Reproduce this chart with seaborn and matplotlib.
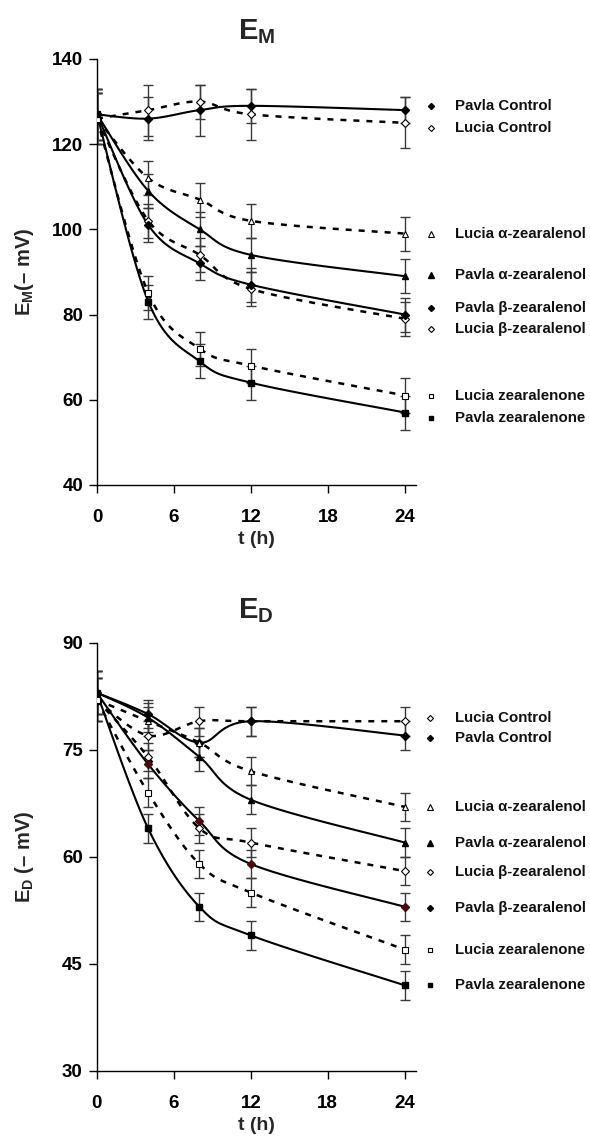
import numpy as np
import pandas as pd
import matplotlib
matplotlib.use("Agg")
import matplotlib.pyplot as plt
import seaborn as sns

# ---------------- data ----------------
t = [0, 4, 8, 12, 24]
x_ticks = [0, 6, 12, 18, 24]

# E_M panel (-mV)
em_pavla_control = [127, 126, 128, 129, 128]
em_lucia_control = [126, 128, 130, 127, 125]
em_lucia_alpha = [126, 112, 107, 102, 99]
em_pavla_alpha = [127, 109, 100, 94, 89]
em_pavla_beta = [127, 101, 92, 87, 80]
em_lucia_beta = [126, 102, 94, 86, 79]
em_lucia_zea = [126, 85, 72, 68, 61]
em_pavla_zea = [127, 83, 69, 64, 57]

em_err_pavla_control = [6, 5, 6, 4, 3]
em_err_lucia_control = [6, 6, 4, 6, 6]
em_err_other = [6, 4, 4, 4, 4]
em_y_ticks = [40, 60, 80, 100, 120, 140]

# E_D panel (-mV)
ed_lucia_control = [82, 77, 79, 79, 79]
ed_pavla_control = [83, 80, 76, 79, 77]
ed_lucia_alpha = [82, 79, 76, 72, 67]
ed_pavla_alpha = [83, 79.5, 74, 68, 62]
ed_lucia_beta = [82, 74, 64, 62, 58]
ed_pavla_beta = [83, 73, 65, 59, 53]
ed_lucia_zea = [82, 69, 59, 55, 47]
ed_pavla_zea = [83, 64, 53, 49, 42]

ed_err = [3, 2, 2, 2, 2]
ed_y_ticks = [30, 45, 60, 75, 90]

lbl_pc = "Pavla Control"
lbl_lc = "Lucia Control"
lbl_la = "Lucia α-zearalenol"
lbl_pa = "Pavla α-zearalenol"
lbl_pb = "Pavla β-zearalenol"
lbl_lb = "Lucia β-zearalenol"
lbl_lz = "Lucia zearalenone"
lbl_pz = "Pavla zearalenone"

# legend label heights (layout, data units)
em_legend_y = [129, 123.8, 98.9, 89.3, 81.5, 76.6, 60.9, 55.7]
ed_legend_y = [79.4, 76.6, 67.0, 61.9, 57.9, 52.9, 47.0, 42.1]

# ---------------- style ----------------
sns.set_style("ticks")
plt.rcParams["font.family"] = ["Liberation Sans", "DejaVu Sans"]
plt.rcParams["mathtext.fontset"] = "custom"
plt.rcParams["mathtext.rm"] = "Liberation Sans"
plt.rcParams["mathtext.bf"] = "Liberation Sans:bold"
plt.rcParams["mathtext.it"] = "Liberation Sans:italic"
plt.rcParams["axes.edgecolor"] = "black"
plt.rcParams["xtick.color"] = "black"
plt.rcParams["ytick.color"] = "black"

MARK = {
    "fd": dict(marker="D", mfc="black", mec="black", ms=3.6),
    "od": dict(marker="D", mfc="white", mec="black", ms=3.6, mew=0.8),
    "ft": dict(marker="^", mfc="black", mec="black", ms=5),
    "ot": dict(marker="^", mfc="white", mec="black", ms=5, mew=0.8),
    "fs": dict(marker="s", mfc="black", mec="black", ms=4.2),
    "os": dict(marker="s", mfc="white", mec="black", ms=4.2, mew=0.8),
}


def smooth(x, y, n=25):
    P = np.column_stack([x, y]).astype(float)
    out = []
    for i in range(len(P) - 1):
        p0 = P[i - 1] if i > 0 else P[i]
        p1, p2 = P[i], P[i + 1]
        p3 = P[i + 2] if i + 2 < len(P) else P[i + 1]
        c1 = p1 + (p2 - p0) / 6.0
        c2 = p2 - (p3 - p1) / 6.0
        s = np.linspace(0, 1, n)[:, None]
        seg = (1 - s) ** 3 * p1 + 3 * (1 - s) ** 2 * s * c1 + 3 * (1 - s) * s ** 2 * c2 + s ** 3 * p2
        out.append(seg if i == 0 else seg[1:])
    return np.vstack(out)


def draw_series(ax, y, err, solid, mk, mcolor=None):
    pts = smooth(t, y)
    df = pd.DataFrame({"t": pts[:, 0], "v": pts[:, 1]})
    if solid:
        sns.lineplot(data=df, x="t", y="v", ax=ax, sort=False, estimator=None,
                     color="black", linewidth=1.5, linestyle="-", zorder=3)
    else:
        sns.lineplot(data=df, x="t", y="v", ax=ax, sort=False, estimator=None,
                     color="black", linewidth=1.8, linestyle=(0, (2.4, 2.8)), zorder=3)
    ax.errorbar(t, y, yerr=err, fmt="none", ecolor="#3a3a3a", elinewidth=1.0,
                capsize=3.5, capthick=1.0, zorder=2)
    style = dict(MARK[mk])
    if mcolor is not None:
        style["mfc"] = mcolor
        style["mec"] = mcolor
    ax.plot(t, y, linestyle="none", zorder=4, **style)


def legend_entries(ax, entries, ys):
    for (label, mk), yy in zip(entries, ys):
        st = dict(MARK[mk])
        st["ms"] = st["ms"] * 0.85
        ax.plot([26.0], [yy], linestyle="none", clip_on=False, **st)
        ax.text(27.9, yy, label, fontsize=10.8, fontweight="bold", va="center",
                ha="left", clip_on=False, color="#111111")


def style_axes(ax, yticks, ylab, title, title_pad):
    ax.set_xlim(0, 24.85)
    ax.set_ylim(yticks[0], yticks[-1])
    ax.set_xticks(x_ticks)
    ax.set_yticks(yticks)
    ax.tick_params(axis="both", direction="out", length=6, width=1, labelsize=13.5, pad=4)
    ax.tick_params(axis="x", pad=11)
    for lab in ax.get_xticklabels() + ax.get_yticklabels():
        lab.set_fontweight("bold")
    sns.despine(ax=ax)
    for sp in ("left", "bottom"):
        ax.spines[sp].set_linewidth(1.0)
        ax.spines[sp].set_color("black")
    ax.set_xlabel("t (h)", fontsize=14, fontweight="bold", labelpad=4)
    ax.set_ylabel(ylab, fontsize=14.5, fontweight="bold")
    ax.yaxis.set_label_coords(-0.19, 0.5)
    ax.set_title(title, fontsize=21, pad=title_pad)
    ax.grid(False)


fig = plt.figure(figsize=(5.9, 11.43), dpi=100)
ax1 = fig.add_axes([0.1644, 0.5757, 0.5407, 0.3727])
ax2 = fig.add_axes([0.1639, 0.0630, 0.5407, 0.3747])

# ---- E_M ----
draw_series(ax1, em_lucia_control, em_err_lucia_control, False, "od")
draw_series(ax1, em_pavla_control, em_err_pavla_control, True, "fd")
draw_series(ax1, em_lucia_alpha, em_err_other, False, "ot")
draw_series(ax1, em_pavla_alpha, em_err_other, True, "ft")
draw_series(ax1, em_lucia_beta, em_err_other, False, "od")
draw_series(ax1, em_pavla_beta, em_err_other, True, "fd")
draw_series(ax1, em_lucia_zea, em_err_other, False, "os")
draw_series(ax1, em_pavla_zea, em_err_other, True, "fs")
style_axes(ax1, em_y_ticks, r"$\mathbf{E_M}$(– mV)", r"$\mathbf{E_M}$", 14)
legend_entries(ax1, [(lbl_pc, "fd"), (lbl_lc, "od"), (lbl_la, "ot"), (lbl_pa, "ft"),
                     (lbl_pb, "fd"), (lbl_lb, "od"), (lbl_lz, "os"), (lbl_pz, "fs")],
               em_legend_y)

# ---- E_D ----
draw_series(ax2, ed_lucia_control, ed_err, False, "od")
draw_series(ax2, ed_pavla_control, ed_err, True, "fd")
draw_series(ax2, ed_lucia_alpha, ed_err, False, "ot")
draw_series(ax2, ed_pavla_alpha, ed_err, True, "ft")
draw_series(ax2, ed_lucia_beta, ed_err, False, "od")
draw_series(ax2, ed_pavla_beta, ed_err, True, "fd", mcolor="#4a0d0d")
draw_series(ax2, ed_lucia_zea, ed_err, False, "os")
draw_series(ax2, ed_pavla_zea, ed_err, True, "fs")
style_axes(ax2, ed_y_ticks, r"$\mathbf{E_D}$ (– mV)", r"$\mathbf{E_D}$", 18)
legend_entries(ax2, [(lbl_lc, "od"), (lbl_pc, "fd"), (lbl_la, "ot"), (lbl_pa, "ft"),
                     (lbl_lb, "od"), (lbl_pb, "fd"), (lbl_lz, "os"), (lbl_pz, "fs")],
               ed_legend_y)

fig.savefig("out.png", dpi=100)
